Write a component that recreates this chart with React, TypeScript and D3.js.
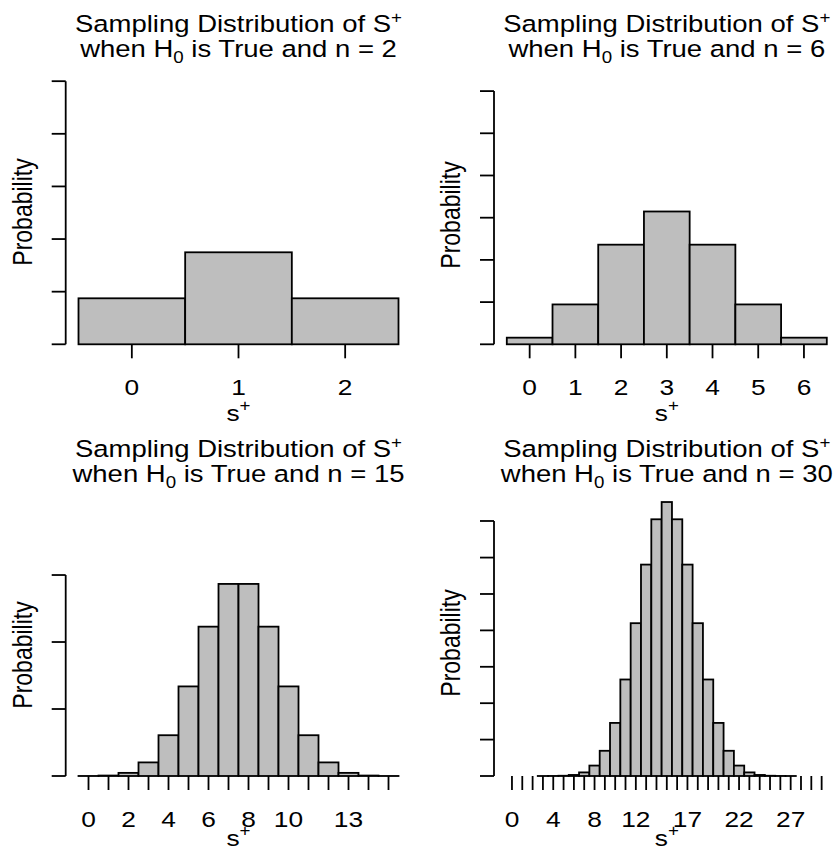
import * as d3 from "d3";

// probabilities (S+ = 0..n)
const probsN2 = [0.25, 0.5, 0.25];
const probsN6 = [0.0156, 0.0938, 0.2344, 0.3125, 0.2344, 0.0938, 0.0156];
const probsN15 = [
  0.00003, 0.00046, 0.0032, 0.0139, 0.0417, 0.0916, 0.1527, 0.1964,
  0.1964, 0.1527, 0.0916, 0.0417, 0.0139, 0.0032, 0.00046, 0.00003,
];
const probsN30 = [
  0, 0, 0, 0.000004, 0.000026, 0.00013, 0.00055, 0.0019, 0.0055, 0.0133,
  0.028, 0.0509, 0.0806, 0.1115, 0.1354, 0.1445, 0.1354, 0.1115, 0.0806,
  0.0509, 0.028, 0.0133, 0.0055, 0.0019, 0.00055, 0.00013, 0.000026,
  0.000004, 0, 0, 0,
];

// x tick labels that are printed (ticks at every integer)
const xLabelsN2 = [0, 1, 2];
const xLabelsN6 = [0, 1, 2, 3, 4, 5, 6];
const xLabelsN15 = [0, 2, 4, 6, 8, 10, 13];
const xLabelsN30 = [0, 4, 8, 12, 17, 22, 27];

// unlabelled y ticks
const yTicksN2 = [0, 0.286, 0.572, 0.858, 1.144, 1.43];
const yTicksN6 = [0, 0.0993, 0.1986, 0.2979, 0.3972, 0.4965, 0.5958];
const yTicksN15 = [0, 0.0685, 0.137, 0.2055];
const yTicksN30 = [0, 0.0192, 0.0384, 0.0576, 0.0768, 0.096, 0.1152, 0.1345];

const W = 835;
const H = 858;
const plotW = 345.6;
const tickLen = 14;
const sx = 1.17;
const fill = "#BEBEBE";
const font = "'Liberation Sans', Arial, Helvetica, sans-serif";

const panels = [
  { n: 2, probs: probsN2, xLabels: xLabelsN2, yTicks: yTicksN2, left: 65.7, bottom: 344.3, ppu: 184, t1: 31.7, t2: 57, labY: 212, tickY: 395, sY: 421 },
  { n: 6, probs: probsN6, xLabels: xLabelsN6, yTicks: yTicksN6, left: 494, bottom: 344.3, ppu: 425, t1: 31.7, t2: 57, labY: 215, tickY: 395, sY: 421 },
  { n: 15, probs: probsN15, xLabels: xLabelsN15, yTicks: yTicksN15, left: 65.7, bottom: 776, ppu: 978, t1: 457, t2: 482, labY: 655, tickY: 827, sY: 846 },
  { n: 30, probs: probsN30, xLabels: xLabelsN30, yTicks: yTicksN30, left: 494, bottom: 776, ppu: 1896, t1: 457, t2: 482, labY: 643, tickY: 827, sY: 846 },
];

function Panel({ p }) {
  const k = p.probs.length;
  const ext = 0.04 * k;
  const x = d3
    .scaleLinear()
    .domain([-0.5 - ext, k - 0.5 + ext])
    .range([p.left, p.left + plotW]);
  const y = d3.scaleLinear().domain([0, 1]).range([p.bottom, p.bottom - p.ppu]);
  const cx = p.left + plotW / 2;
  const yTop = y(p.yTicks[p.yTicks.length - 1]);

  return (
    <g>
      {/* title */}
      <text transform={`translate(${cx},${p.t1}) scale(${sx},1)`} textAnchor="middle" fontSize={23.5}>
        Sampling Distribution of S
        <tspan dy={-9} fontSize={16}>+</tspan>
      </text>
      <text transform={`translate(${cx},${p.t2}) scale(${sx},1)`} textAnchor="middle" fontSize={23.5}>
        when H
        <tspan dy={6} fontSize={16}>0</tspan>
        <tspan dy={-6}> is True and n = {p.n}</tspan>
      </text>

      {/* bars */}
      {p.probs.map((v, i) => (
        <rect
          key={i}
          x={x(i - 0.5)}
          y={y(v)}
          width={x(i + 0.5) - x(i - 0.5)}
          height={y(0) - y(v)}
          fill={fill}
          stroke="#000"
          strokeWidth={1.8}
        />
      ))}

      {/* x axis ticks */}
      {d3.range(k).map((i) => (
        <line key={i} x1={x(i)} x2={x(i)} y1={p.bottom} y2={p.bottom + tickLen} stroke="#000" strokeWidth={1.8} />
      ))}
      {p.xLabels.map((v) => (
        <text key={v} transform={`translate(${x(v)},${p.tickY}) scale(${sx},1)`} textAnchor="middle" fontSize={22.5}>
          {v}
        </text>
      ))}
      <text transform={`translate(${cx},${p.sY}) scale(${sx},1)`} textAnchor="middle" fontSize={22.5}>
        s<tspan dy={-10} fontSize={16}>+</tspan>
      </text>

      {/* y axis */}
      <line x1={p.left} x2={p.left} y1={y(0)} y2={yTop} stroke="#000" strokeWidth={1.8} />
      {p.yTicks.map((v, i) => (
        <line key={i} x1={p.left - tickLen} x2={p.left} y1={y(v)} y2={y(v)} stroke="#000" strokeWidth={1.8} />
      ))}
      <text
        transform={`translate(${p.left - 34},${p.labY}) scale(${sx},1) rotate(-90)`}
        textAnchor="middle"
        fontSize={23}
      >
        Probability
      </text>
    </g>
  );
}

export default function App() {
  return (
    <svg
      width={W}
      height={H}
      style={{ position: "absolute", left: 0, top: 0, background: "#fff" }}
      fontFamily={font}
    >
      <rect width={W} height={H} fill="#fff" />
      {panels.map((p) => (
        <Panel key={p.n} p={p} />
      ))}
    </svg>
  );
}
